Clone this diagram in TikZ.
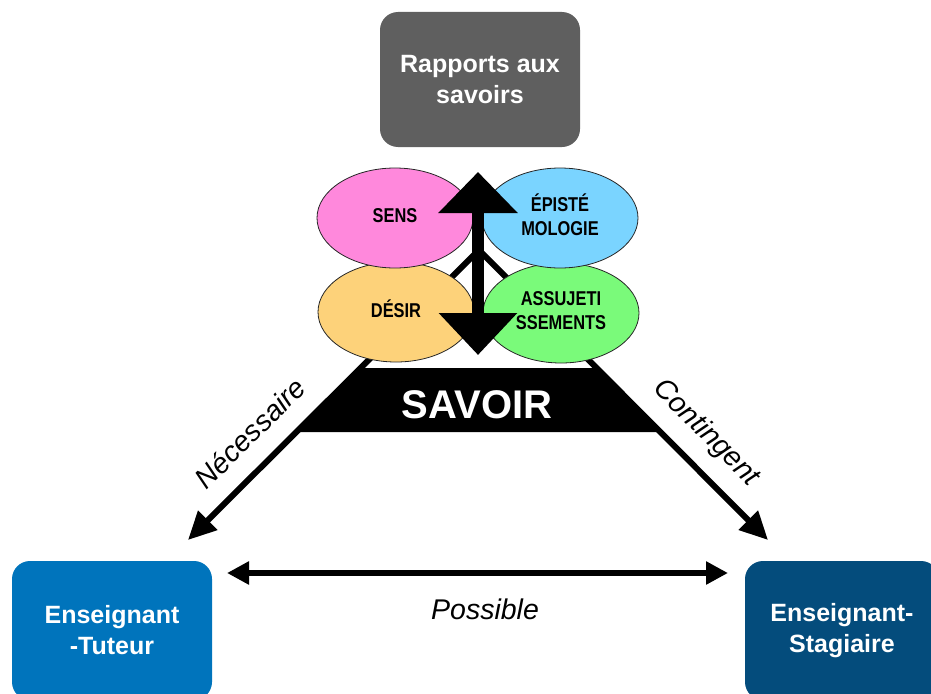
\documentclass[tikz,border=0pt]{standalone}
\usepackage{fontspec}
\setmainfont{Liberation Sans}
\usepackage{graphicx}
\usetikzlibrary{shapes.geometric,arrows.meta}
\definecolor{boxgray}{RGB}{95,95,95}
\definecolor{senspink}{RGB}{255,136,220}
\definecolor{episblue}{RGB}{122,212,255}
\definecolor{desorange}{RGB}{253,210,122}
\definecolor{assgreen}{RGB}{122,250,122}
\definecolor{tutblue}{RGB}{0,116,188}
\definecolor{stadark}{RGB}{4,76,124}
\newcommand{\ctx}[1]{\scalebox{0.82}[1]{\begin{tabular}{@{}c@{}}#1\end{tabular}}}
\begin{document}
\begin{tikzpicture}[x=1pt,y=-1pt,
  rbox/.style={rounded corners=18pt, inner sep=0pt, text=white,
    font=\bfseries\fontsize{25}{31}\selectfont, align=center},
  oval/.style={ellipse, draw=black!85, line width=0.8pt, minimum width=156pt,
    minimum height=100pt, inner sep=0pt, font=\bfseries\fontsize{20}{24}\selectfont},
  conn/.style={line width=6pt, -{Triangle[length=28pt,width=26pt]}},
  lbl/.style={font=\itshape\fontsize{28.5}{30}\selectfont, inner sep=0pt}]
\useasboundingbox (0,0) rectangle (931,693);

% top box
\node[rbox, fill=boxgray, minimum width=200pt, minimum height=135pt] (rap) at (480,79.5)
  {Rapports aux\\savoirs};

% big triangle sides
\coordinate (apex) at (479,250);
\coordinate (ltip) at (188,540);
\coordinate (rtip) at (768,540);
\draw[conn] (apex) -- (ltip);
\draw[conn] (apex) -- (rtip);

% SAVOIR trapezoid
\fill[black] (361,368) -- (597,368) -- (661,432) -- (297,432) -- cycle;
\node[anchor=base, text=white, font=\bfseries\fontsize{40}{44}\selectfont, inner sep=0pt]
  (sav) at (477,418) {SAVOIR};

% ellipses
\node[oval, fill=desorange] (des) at (396,312) {\ctx{DÉSIR}};
\node[oval, fill=assgreen] (ass) at (561,313) {\ctx{ASSUJETI\\SSEMENTS}};
\node[oval, fill=senspink] (sens) at (395,218) {\ctx{SENS}};
\node[oval, fill=episblue] (epi) at (560,218) {\ctx{ÉPISTÉ\\MOLOGIE}};

% vertical double arrow
\coordinate (vtop) at (478,172);
\coordinate (vbot) at (478,355);
\draw[line width=12pt, {Triangle[length=41pt,width=77pt]}-{Triangle[length=42pt,width=76pt]}]
  (vtop) -- (vbot);

% bottom boxes
\node[rbox, fill=tutblue, minimum width=200pt, minimum height=139pt] (tut) at (112,630.5)
  {Enseignant\\-Tuteur};
\node[rbox, fill=stadark, minimum width=194pt, minimum height=139pt] (sta) at (842,630.5)
  {Enseignant-\\Stagiaire};

% horizontal double arrow
\coordinate (hl) at (227,573);
\coordinate (hr) at (728,573);
\draw[line width=5.5pt, {Triangle[length=22pt,width=22pt]}-{Triangle[length=22pt,width=22pt]}]
  (hl) -- (hr);

% labels
\node[lbl, rotate=45] (nec) at (250,433) {Nécessaire};
\node[lbl, rotate=-45] (cont) at (706,433) {Contingent};
\node[lbl] (poss) at (485,609) {Possible};
\end{tikzpicture}
\end{document}
